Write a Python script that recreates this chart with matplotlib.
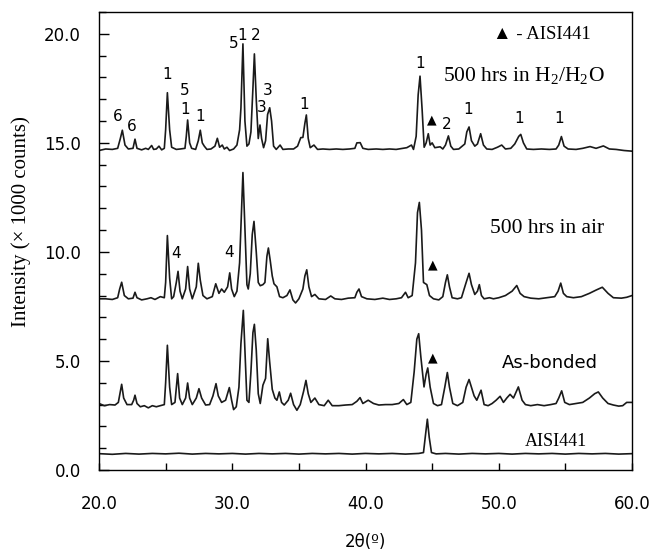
import matplotlib
matplotlib.use("Agg")
import matplotlib.pyplot as plt
from matplotlib.ticker import MultipleLocator, FuncFormatter

plt.rcParams['mathtext.fontset'] = 'custom'
plt.rcParams['mathtext.rm'] = 'Liberation Serif'

# XRD patterns (2theta in degrees, intensity x1000 counts)
h2o_x = [20.0, 20.5, 21.0, 21.4, 21.6, 21.75, 21.95, 22.2, 22.55, 22.7, 22.85, 23.2, 23.5, 23.7, 23.95,
         24.1, 24.3, 24.5, 24.7, 24.9, 25.0, 25.13, 25.3, 25.45, 25.8, 26.1, 26.45, 26.55, 26.65, 26.8,
         26.95, 27.25, 27.45, 27.6, 27.75, 27.9, 28.1, 28.4, 28.7, 28.88, 29.05, 29.25, 29.4, 29.6, 29.8,
         30.1, 30.35, 30.55, 30.65, 30.8, 30.95, 31.1, 31.25, 31.4, 31.55, 31.66, 31.8, 31.95, 32.08, 32.2,
         32.35, 32.5, 32.65, 32.81, 32.95, 33.1, 33.3, 33.59, 33.8, 34.2, 34.6, 34.9, 35.14, 35.3, 35.45,
         35.56, 35.7, 35.85, 36.13, 36.4, 36.8, 37.3, 37.8, 38.3, 38.8, 39.2, 39.35, 39.6, 39.8, 40.2,
         40.8, 41.3, 41.8, 42.3, 42.8, 43.1, 43.45, 43.6, 43.8, 43.95, 44.09, 44.25, 44.4, 44.55, 44.71,
         44.85, 45.0, 45.2, 45.6, 45.8, 46.0, 46.22, 46.4, 46.6, 47.0, 47.45, 47.6, 47.77, 47.95, 48.2,
         48.4, 48.64, 48.85, 49.1, 49.5, 49.9, 50.22, 50.5, 50.9, 51.2, 51.5, 51.65, 51.85, 52.1, 52.6,
         53.2, 53.8, 54.3, 54.5, 54.7, 54.9, 55.2, 55.8, 56.3, 56.85, 57.3, 57.85, 58.3, 58.8, 59.4, 60.0]
h2o_y = [14.65, 14.72, 14.7, 14.75, 15.2, 15.58, 14.9, 14.72, 14.75, 15.17, 14.75, 14.68, 14.75, 14.7, 14.88,
         14.7, 14.72, 14.85, 14.68, 14.75, 15.6, 17.3, 15.6, 14.8, 14.7, 14.72, 14.75, 15.3, 16.05, 15.0,
         14.75, 14.7, 15.1, 15.58, 15.0, 14.85, 14.7, 14.72, 14.85, 15.21, 14.8, 14.9, 14.72, 14.8, 14.65,
         14.72, 14.9, 15.6, 16.6, 19.54, 16.0, 14.85, 14.95, 15.5, 17.5, 19.08, 17.0, 15.2, 15.82, 15.2,
         14.78, 15.1, 16.3, 16.61, 16.0, 14.85, 14.7, 14.9, 14.7, 14.72, 14.72, 14.85, 15.24, 15.25, 15.9,
         16.28, 15.2, 14.78, 14.9, 14.7, 14.72, 14.7, 14.72, 14.7, 14.72, 14.75, 15.0, 15.01, 14.75, 14.7,
         14.72, 14.7, 14.72, 14.7, 14.75, 14.78, 14.9, 14.7, 15.3, 17.2, 18.06, 16.5, 14.8, 15.0, 15.42,
         14.9, 15.0, 14.78, 14.82, 14.72, 14.9, 15.32, 14.85, 14.7, 14.72, 14.95, 15.5, 15.73, 15.1, 14.85,
         14.95, 15.42, 14.9, 14.72, 14.7, 14.8, 14.9, 14.72, 14.75, 14.95, 15.3, 15.39, 15.0, 14.72, 14.7,
         14.72, 14.7, 14.72, 14.9, 15.29, 14.85, 14.72, 14.7, 14.75, 14.83, 14.75, 14.86, 14.72, 14.7, 14.65, 14.62]

air_x = [20.0, 20.5, 21.0, 21.4, 21.55, 21.7, 21.9, 22.2, 22.55, 22.7, 22.85, 23.2, 23.6, 23.9, 24.2,
         24.6, 24.9, 25.0, 25.13, 25.3, 25.45, 25.6, 25.8, 25.93, 26.08, 26.25, 26.5, 26.65, 26.8, 27.0,
         27.3, 27.45, 27.6, 27.8, 28.1, 28.5, 28.76, 29.0, 29.2, 29.4, 29.65, 29.81, 29.95, 30.15, 30.35,
         30.55, 30.7, 30.8, 30.95, 31.1, 31.2, 31.35, 31.5, 31.63, 31.8, 31.95, 32.1, 32.3, 32.45, 32.6,
         32.71, 32.85, 33.0, 33.13, 33.35, 33.55, 33.8, 34.1, 34.33, 34.55, 34.75, 35.0, 35.3, 35.45, 35.59,
         35.75, 35.95, 36.2, 36.5, 37.0, 37.39, 37.7, 38.2, 38.7, 39.2, 39.35, 39.51, 39.7, 40.1, 40.7,
         41.3, 41.8, 42.3, 42.7, 43.0, 43.2, 43.5, 43.75, 43.9, 44.04, 44.2, 44.35, 44.6, 44.8, 45.1,
         45.5, 45.8, 46.0, 46.14, 46.3, 46.5, 46.9, 47.2, 47.5, 47.77, 47.95, 48.2, 48.4, 48.54, 48.7,
         48.9, 49.3, 49.6, 50.0, 50.5, 51.0, 51.35, 51.6, 51.9, 52.4, 53.0, 53.6, 54.2, 54.45, 54.65,
         54.85, 55.1, 55.6, 56.2, 56.8, 57.3, 57.77, 58.2, 58.6, 59.2, 59.6, 60.0]
air_y = [7.85, 7.85, 7.82, 7.9, 8.3, 8.61, 8.0, 7.85, 7.88, 8.15, 7.9, 7.8, 7.85, 7.9, 7.82,
         7.95, 7.9, 8.6, 10.75, 8.8, 7.85, 7.95, 8.6, 9.11, 8.2, 7.85, 8.3, 9.33, 8.3, 7.85,
         8.4, 9.48, 8.7, 8.0, 7.85, 7.95, 8.54, 8.1, 8.3, 8.15, 8.4, 9.04, 8.3, 7.95, 8.2,
         9.5, 12.0, 13.64, 11.0, 8.5, 8.3, 9.0, 10.8, 11.4, 10.0, 8.6, 8.45, 8.5, 8.6, 9.8,
         10.18, 9.6, 8.9, 8.54, 8.4, 7.95, 7.9, 8.0, 8.26, 7.8, 7.66, 7.85, 8.3, 8.9, 9.18,
         8.4, 7.95, 8.05, 7.85, 7.82, 7.98, 7.85, 7.82, 7.88, 7.9, 8.15, 8.3, 7.95, 7.85, 7.82,
         7.88, 7.82, 7.85, 7.9, 8.15, 7.9, 8.0, 9.5, 11.8, 12.27, 11.0, 8.6, 8.5, 8.0, 7.85,
         7.8, 7.95, 8.6, 8.95, 8.4, 7.9, 7.85, 7.9, 8.5, 9.02, 8.5, 8.05, 8.2, 8.5, 8.0,
         7.85, 7.9, 7.85, 7.9, 8.0, 8.2, 8.46, 8.1, 7.95, 7.88, 7.85, 7.9, 7.95, 8.2, 8.57,
         8.1, 7.95, 7.9, 7.95, 8.1, 8.25, 8.38, 8.1, 7.9, 7.88, 7.92, 8.0]

bonded_x = [20.0, 20.4, 20.8, 21.2, 21.45, 21.6, 21.7, 21.85, 22.1, 22.45, 22.6, 22.7, 22.85, 23.1, 23.4,
            23.7, 24.0, 24.3, 24.6, 24.9, 25.0, 25.13, 25.3, 25.45, 25.7, 25.9, 26.05, 26.25, 26.5, 26.65,
            26.8, 27.0, 27.3, 27.5, 27.7, 28.0, 28.3, 28.55, 28.78, 28.95, 29.2, 29.5, 29.78, 29.95, 30.1,
            30.3, 30.5, 30.65, 30.83, 30.95, 31.1, 31.25, 31.4, 31.55, 31.66, 31.8, 31.95, 32.1, 32.3, 32.5,
            32.66, 32.8, 33.0, 33.2, 33.35, 33.53, 33.7, 33.9, 34.2, 34.38, 34.6, 34.85, 35.1, 35.35, 35.53,
            35.7, 35.9, 36.2, 36.5, 36.9, 37.2, 37.5, 38.0, 38.5, 39.0, 39.35, 39.59, 39.8, 40.2, 40.6,
            41.0, 41.5, 42.0, 42.5, 42.84, 43.1, 43.4, 43.65, 43.85, 43.99, 44.15, 44.39, 44.55, 44.67, 44.85,
            45.1, 45.4, 45.7, 45.95, 46.14, 46.3, 46.55, 46.9, 47.3, 47.55, 47.77, 47.95, 48.15, 48.35, 48.67,
            48.9, 49.2, 49.5, 49.8, 50.1, 50.35, 50.6, 50.85, 51.1, 51.47, 51.75, 52.0, 52.4, 52.9, 53.4,
            53.9, 54.3, 54.5, 54.72, 54.95, 55.3, 55.8, 56.3, 56.8, 57.2, 57.47, 57.8, 58.2, 58.6, 59.0,
            59.3, 59.6, 60.0]
bonded_y = [3.05, 2.95, 3.0, 2.98, 3.1, 3.6, 3.93, 3.3, 3.0, 3.0, 3.2, 3.43, 3.05, 2.9, 2.95,
            2.85, 2.95, 2.9, 2.95, 3.0, 4.0, 5.72, 3.8, 3.0, 3.1, 4.42, 3.3, 3.0, 3.3, 3.99,
            3.3, 3.0, 3.3, 3.73, 3.3, 2.98, 3.0, 3.4, 3.96, 3.4, 3.1, 3.2, 3.78, 3.2, 2.77,
            2.9, 3.8, 5.8, 7.32, 5.5, 3.2, 3.1, 4.5, 6.3, 6.68, 5.5, 3.5, 3.05, 3.89, 4.2,
            6.02, 5.0, 3.7, 3.3, 3.2, 3.58, 3.1, 2.98, 3.2, 3.52, 3.0, 2.74, 3.0, 3.6, 4.11,
            3.5, 3.1, 3.3, 3.0, 2.95, 3.2, 2.95, 2.95, 2.98, 3.0, 3.15, 3.32, 3.05, 3.2, 3.05,
            2.98, 3.0, 3.0, 3.05, 3.23, 3.0, 3.1, 4.5, 6.0, 6.25, 5.2, 3.81, 4.4, 4.68, 3.8,
            3.05, 2.95, 3.0, 3.8, 4.47, 3.8, 3.05, 2.95, 3.1, 3.8, 4.15, 3.8, 3.4, 3.2, 3.66,
            3.0, 2.95, 3.05, 3.2, 3.38, 3.1, 3.3, 3.47, 3.3, 3.81, 3.2, 3.0, 2.95, 3.0, 2.95,
            3.0, 3.05, 3.3, 3.63, 3.1, 3.0, 3.05, 3.1, 3.3, 3.5, 3.58, 3.3, 3.05, 2.98, 2.93,
            2.95, 3.1, 3.1]

aisi_x = [20.0, 21.0, 22.0, 23.0, 24.0, 25.0, 26.0, 27.0, 28.0, 29.0, 30.0, 31.0, 32.0, 33.0, 34.0,
          35.0, 36.0, 37.0, 38.0, 39.0, 40.0, 41.0, 42.0, 43.0, 44.0, 44.35, 44.5, 44.64, 44.78, 44.95,
          45.3, 46.0, 47.0, 48.0, 49.0, 50.0, 51.0, 52.0, 53.0, 54.0, 55.0, 56.0, 57.0, 58.0, 59.0, 60.0]
aisi_y = [0.75, 0.72, 0.76, 0.73, 0.76, 0.74, 0.77, 0.73, 0.76, 0.74, 0.76, 0.73, 0.76, 0.74, 0.76,
          0.73, 0.76, 0.74, 0.76, 0.73, 0.76, 0.74, 0.76, 0.73, 0.76, 0.8, 1.6, 2.33, 1.5, 0.8,
          0.74, 0.76, 0.73, 0.76, 0.74, 0.76, 0.73, 0.76, 0.74, 0.76, 0.73, 0.76, 0.74, 0.76, 0.73, 0.75]

# phase numbers over the peaks of the top pattern
peak_text = ['6', '6', '1', '5', '1', '1', '5', '1', '2', '3', '3', '1', '1', '2', '1', '1', '1', '4', '4']
peak_pos = [(21.43, 16.23), (22.45, 15.73), (25.1, 18.15), (26.45, 17.38), (26.45, 16.55), (27.58, 16.23),
            (30.13, 19.57), (30.73, 19.94), (31.78, 19.94), (32.68, 17.42), (32.21, 16.6), (35.38, 16.78),
            (44.09, 18.66), (46.12, 15.82), (47.69, 16.55), (51.52, 16.14), (54.52, 16.14),
            (25.8, 9.95), (29.76, 9.97)]
tri_pos = [(44.97, 16.05), (45.04, 9.42), (45.04, 5.15)]

serif = ['Liberation Serif', 'DejaVu Serif']
sans = ['DejaVu Sans']

fig = plt.figure(figsize=(6.54, 5.54), dpi=100)
ax = fig.add_axes([0.1514, 0.1516, 0.815, 0.8267])

lc = '#1a1a1a'
ax.plot(h2o_x, h2o_y, color=lc, lw=1.2)
ax.plot(air_x, air_y, color=lc, lw=1.2)
ax.plot(bonded_x, bonded_y, color=lc, lw=1.2)
ax.plot(aisi_x, aisi_y, color=lc, lw=1.2)

ax.set_xlim(20, 60)
ax.set_ylim(0, 21)

ax.xaxis.set_major_locator(MultipleLocator(5))
ax.xaxis.set_major_formatter(FuncFormatter(lambda v, p: '%.1f' % v if round(v) % 10 == 0 else ''))
ax.yaxis.set_major_locator(MultipleLocator(5))
ax.yaxis.set_minor_locator(MultipleLocator(1))
ax.yaxis.set_major_formatter(FuncFormatter(lambda v, p: '%.1f' % v))
ax.tick_params(axis='x', which='major', direction='in', length=5, width=1, pad=18, labelsize=12)
ax.tick_params(axis='y', which='major', direction='in', length=7, width=1, pad=13, labelsize=12)
ax.tick_params(axis='y', which='minor', direction='in', length=5, width=1)
for s in ax.spines.values():
    s.set_linewidth(1.0)

ax.set_xlabel('2θ(º)', fontsize=12, family=sans)
ax.xaxis.set_label_coords(0.5, -0.1376)
ax.set_ylabel('Intensity (× 1000 counts)', fontsize=15, family=serif)
ax.yaxis.set_label_coords(-0.128, 0.5415)

for t, (px, py) in zip(peak_text, peak_pos):
    ax.text(px, py, t, fontsize=11, family=sans, ha='center', va='center')
for px, py in tri_pos:
    ax.text(px, py, '▲', fontsize=9, family=sans, ha='center', va='center')

ax.text(49.57, 19.98, '▲ - AISI441', fontsize=13.5, family=serif, ha='left', va='center')
ax.text(45.82, 18.06, '500 hrs in H$_\\mathrm{2}$/H$_\\mathrm{2}$O', fontsize=15.5, family=serif,
        ha='left', va='center')
ax.text(49.34, 11.07, '500 hrs in air', fontsize=15.5, family=serif, ha='left', va='center')
ax.text(50.24, 4.89, 'As-bonded', fontsize=13, family=sans, ha='left', va='center')
ax.text(51.97, 1.29, 'AISI441', fontsize=13, family=serif, ha='left', va='center')

fig.savefig('out.png', dpi=100)
